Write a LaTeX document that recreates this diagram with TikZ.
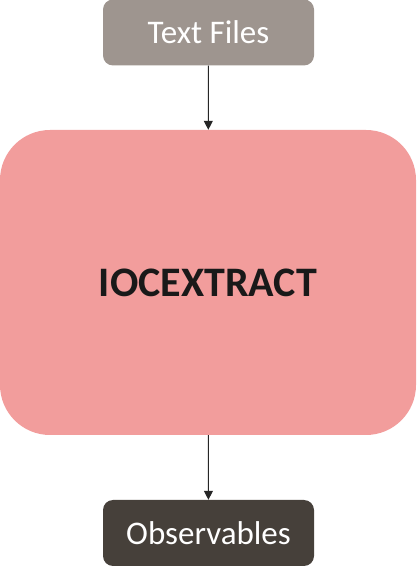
\documentclass[tikz,border=0pt]{standalone}
\usepackage{fontspec}
\setmainfont{Carlito}
\usetikzlibrary{positioning,arrows.meta}
\definecolor{filegray}{HTML}{9E958F}
\definecolor{corepink}{HTML}{F29D9C}
\definecolor{outdark}{HTML}{46403A}
\tikzset{
  smallbox/.style={rounded corners=10pt,minimum width=211pt,minimum height=66pt,
    text=white,font=\fontsize{33}{36}\selectfont,inner sep=0pt},
  flow/.style={draw=black!85,line width=1.1pt,-{Triangle[width=9pt,length=9pt]}}
}
\begin{document}
\begin{tikzpicture}[x=1pt,y=1pt]
   \useasboundingbox (0,0) rectangle (416,573);
   % input
   \node[smallbox,fill=filegray] (files) at (208.5,540.5) {Text Files};
   % main block
   \node[fill=corepink,rounded corners=50pt,minimum width=416pt,minimum height=305pt,
     font=\bfseries\fontsize{42}{46}\selectfont,text=black!90,inner sep=0pt]
     (ioc) at (208,290.5) {IOCEXTRACT};
   % output
   \node[smallbox,fill=outdark] (obs) at (208.5,40) {Observables};

   \draw[flow] (files) -- (ioc);
   \draw[flow] (ioc) -- (obs);
\end{tikzpicture}
\end{document}
